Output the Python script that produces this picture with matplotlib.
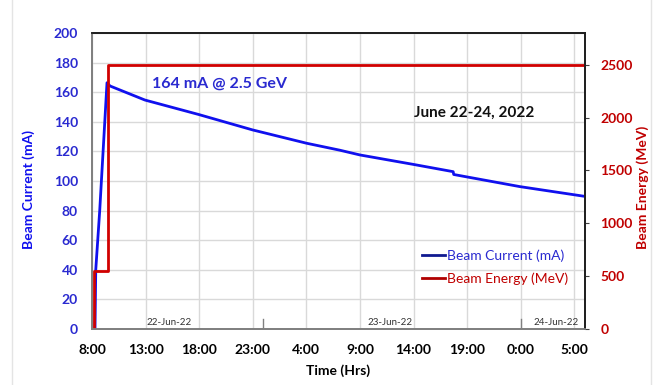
import matplotlib.pyplot as plt
from matplotlib.lines import Line2D

plt.rcParams['font.family'] = ['Lato', 'DejaVu Sans']

# hours after 8:00 on 22-Jun-22
current_hours = [0.28, 0.35, 0.72, 1.40, 1.68, 4.94, 9.92, 14.99, 20.03, 23.13,
                 25.0, 29.92, 33.70, 33.75, 34.95, 39.93, 46.0]
current_ma = [0, 40, 80, 166.4, 164.2, 154.7, 145.0, 134.5, 125.5, 120.8,
              117.6, 111.3, 106.3, 104.4, 102.8, 96.2, 89.6]

energy_hours = [0.14, 0.14, 1.52, 1.52, 46.0]
energy_mev = [0, 550, 550, 2500, 2500]

tick_hours = [0, 5, 10, 15, 20, 25, 30, 35, 40, 45]
tick_labels = ['8:00', '13:00', '18:00', '23:00', '4:00', '9:00', '14:00', '19:00', '0:00', '5:00']

day_breaks = [16, 40]
day_label_hours = [7.2, 27.8, 43.3]
day_labels = ['22-Jun-22', '23-Jun-22', '24-Jun-22']

BLUE = '#1010ee'
RED = '#d00000'
TICK_BLUE = '#2a2ad0'
TICK_RED = '#c00000'

fig = plt.figure(figsize=(6.55, 3.85), dpi=100)
ax = fig.add_axes([92 / 655, 56 / 385, 493 / 655, 296 / 385])
ax2 = ax.twinx()

ax.set_xlim(0, 46)
ax.set_ylim(0, 200)
ax2.set_ylim(0, 2800)

ax.set_xticks(tick_hours)
ax.set_xticklabels(tick_labels, fontweight='bold', fontsize=10)
ax.set_yticks(range(0, 201, 20))
ax.grid(True, color='#d9d9d9', linewidth=1)
ax.set_axisbelow(True)
ax.tick_params(axis='x', length=0, pad=11)
ax.tick_params(axis='y', length=0, pad=10, labelcolor=TICK_BLUE, labelsize=10)
for lab in ax.get_yticklabels():
    lab.set_fontweight('bold')

ax2.set_yticks(range(0, 2501, 500))
ax2.tick_params(axis='y', length=3, pad=8, color='#404040', labelcolor=TICK_RED, labelsize=10)
for lab in ax2.get_yticklabels():
    lab.set_fontweight('bold')

for a in (ax, ax2):
    a.spines['left'].set_color('#808080')
    a.spines['bottom'].set_color('#808080')
    a.spines['top'].set_color('#202020')
    a.spines['right'].set_color('#202020')
    for s in a.spines.values():
        s.set_linewidth(1.3)

ax.plot(current_hours, current_ma, color=BLUE, linewidth=2)
ax2.plot(energy_hours, energy_mev, color=RED, linewidth=2)

for h in day_breaks:
    ax.axvline(h, ymin=0, ymax=0.034, color='#808080', linewidth=1)
for h, lab in zip(day_label_hours, day_labels):
    ax.text(h, 1.2, lab, ha='center', va='bottom', fontsize=7, color='#333333')

ax.set_ylabel('Beam Current (mA)', color=BLUE, fontweight='bold', fontsize=10)
ax.yaxis.set_label_coords(-0.116, 0.47)
ax2.set_ylabel('Beam Energy (MeV)', color=TICK_RED, fontweight='bold', fontsize=10, rotation=90)
ax2.yaxis.set_label_coords(1.105, 0.48)
ax.set_xlabel('Time (Hrs)', fontweight='bold', fontsize=10)
ax.xaxis.set_label_coords(0.5, -0.118)

ax.text(5.6, 166, '164 mA @ 2.5 GeV', color='#2a2ad0', fontweight='bold', fontsize=11.5, va='center')
ax.text(30.0, 146, 'June 22-24, 2022', color='#111111', fontweight='bold', fontsize=11, va='center')

handles = [Line2D([0], [0], color='#101a90', linewidth=2),
           Line2D([0], [0], color='#b00000', linewidth=2)]
ax2.legend(handles, ['Beam Current (mA)', 'Beam Energy (MeV)'], loc='center left',
           bbox_to_anchor=(0.645, 0.21), frameon=False, handlelength=1.6, handletextpad=0.2,
           labelspacing=0.75, labelcolor=[TICK_BLUE, TICK_RED], prop={'size': 10})

fig.add_artist(Line2D([12 / 655, 12 / 655], [0, 1], color='#e4e4e4', linewidth=1))
fig.add_artist(Line2D([651 / 655, 651 / 655], [0, 1], color='#e4e4e4', linewidth=1))

fig.savefig('out.png', dpi=100)
